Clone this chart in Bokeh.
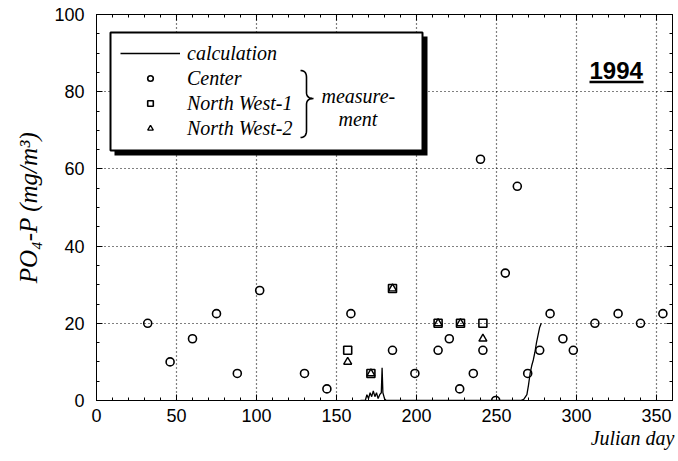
import math
from bokeh.plotting import figure
from bokeh.models import (Legend, LegendItem, Label, BoxAnnotation, LinearAxis,
                          FixedTicker, PolyAnnotation, CustomJSTickFormatter, Title)
from bokeh.embed import file_html
from bokeh.resources import INLINE

# ---------------- data ----------------
center_day = [32, 46, 60, 75, 88, 102, 130, 144, 159, 185, 199, 213.5, 220.5, 227,
              235.5, 240, 241.5, 249.5, 255.5, 263, 269.5, 277, 283.5, 291.5, 298,
              311.5, 326, 340, 354]
center_val = [20, 10, 16, 22.5, 7, 28.5, 7, 3, 22.5, 13, 7, 13, 16, 3,
              7, 62.5, 13, 0, 33, 55.5, 7, 13, 22.5, 16, 13,
              20, 22.5, 20, 22.5]
nw1_day = [157, 171.5, 185, 213.5, 227.5, 241.5]
nw1_val = [13, 7, 29, 20, 20, 20]
nw2_day = [157, 171.5, 185, 213.5, 227.5, 241.5]
nw2_val = [10, 7, 29, 20, 20, 16]
calc_day = [165, 168, 169, 170, 171, 172, 173, 174, 175, 176, 177, 178, 178.5, 179,
            180, 181, 185, 265, 267, 269, 270, 271, 272, 273, 274, 275, 276, 277, 278]
calc_val = [0, 0, 1.5, 0.5, 2, 1, 2.5, 1, 2, 0.5, 1.5, 2, 8.5, 2,
            0.5, 0, 0, 0, 0.3, 1.5, 4, 7, 9, 10.5, 12.5, 15, 17, 19, 20]
x_ticks = [0, 50, 100, 150, 200, 250, 300, 350]
x_minor = list(range(0, 361, 10))
y_ticks = [0, 20, 40, 60, 80, 100]
y_minor = list(range(0, 101, 5))

# frame geometry (pixels)
FL, FR, FT, FB = 96, 672, 14, 400
XMAX, YMAX = 360, 100
SX = (FR - FL) / XMAX
SY = (FB - FT) / YMAX


def dx(px):
    return (px - FL) / SX


def dy(py):
    return (FB - py) / SY


p = figure(frame_width=FR - FL, frame_height=FB - FT, x_range=(0, XMAX), y_range=(0, YMAX),
           output_backend="svg", toolbar_location=None,
           min_border_left=FL, min_border_right=678 - FR, min_border_top=FT,
           min_border_bottom=461 - FB, outline_line_color="black", outline_line_width=1,
           background_fill_color="white", border_fill_color="white")

TICKFONT = "Liberation Sans"
SERIF = "Liberation Serif"
for ax, ticks, minor in ((p.xaxis[0], x_ticks, x_minor), (p.yaxis[0], y_ticks, y_minor)):
    ax.ticker = FixedTicker(ticks=ticks, minor_ticks=minor)
    ax.major_tick_in = 6
    ax.major_tick_out = 0
    ax.minor_tick_in = 3
    ax.minor_tick_out = 0
    ax.axis_line_color = "black"
    ax.major_tick_line_color = "black"
    ax.minor_tick_line_color = "black"
    ax.major_label_text_font = TICKFONT
    ax.major_label_text_font_size = "18px"
    ax.major_label_text_color = "black"
p.xaxis.major_label_standoff = 8
p.yaxis.major_label_standoff = 12

# y axis label
p.yaxis.axis_label = "PO\u2084-P (mg/m\u00b3)"
p.yaxis.axis_label_text_font = SERIF
p.yaxis.axis_label_text_font_style = "italic"
p.yaxis.axis_label_text_font_size = "25px"
p.yaxis.axis_label_text_color = "black"
p.yaxis.axis_label_standoff = 9

for ticks, minor, place in ((x_ticks, x_minor, "above"), (y_ticks, y_minor, "right")):
    ax = LinearAxis(ticker=FixedTicker(ticks=ticks, minor_ticks=minor),
                    formatter=CustomJSTickFormatter(code="return ''"),
                    major_tick_in=6, major_tick_out=0, minor_tick_in=3, minor_tick_out=0,
                    major_label_text_font_size="1px", major_label_standoff=0,
                    axis_line_color="black")
    p.add_layout(ax, place)

# x axis label, right aligned under the axis
p.add_layout(Title(text="Julian day", align="right", text_font=SERIF,
                   text_font_style="italic", text_font_size="20px",
                   text_color="black", standoff=0, offset=-2), "below")

p.xgrid.ticker = FixedTicker(ticks=x_ticks)
p.ygrid.ticker = FixedTicker(ticks=y_ticks)
for g in (p.xgrid[0], p.ygrid[0]):
    g.grid_line_color = "black"
    g.grid_line_dash = "1 3"
    g.grid_line_width = 1.2

# ---------------- legend frame (white box with a dark drop shadow) ----------------
p.add_layout(BoxAnnotation(left=dx(114), right=dx(427), top=dy(36), bottom=dy(155),
                           fill_color="black", fill_alpha=1, line_color=None,
                           level="underlay"))
p.add_layout(BoxAnnotation(left=dx(110), right=dx(422), top=dy(32), bottom=dy(150),
                           fill_color="white", fill_alpha=1, line_color="black",
                           line_alpha=1, line_width=2, level="underlay"))

# ---------------- data marks ----------------
r_calc = p.line(calc_day, calc_val, line_color="black", line_width=1.3)
r_c = p.scatter(center_day, center_val, marker="circle", size=8, fill_color=None,
                line_color="black", line_width=1.6)
r_n1 = p.scatter(nw1_day, nw1_val, marker="square", size=8, fill_color=None,
                 line_color="black", line_width=1.6)
r_n2 = p.scatter(nw2_day, nw2_val, marker="triangle", size=8, fill_color=None,
                 line_color="black", line_width=1.4)

legend = Legend(items=[LegendItem(label="calculation", renderers=[r_calc]),
                       LegendItem(label="Center", renderers=[r_c]),
                       LegendItem(label="North West-1", renderers=[r_n1]),
                       LegendItem(label="North West-2", renderers=[r_n2])],
                location=(24, FB - 140), margin=0,
                label_text_font=SERIF, label_text_font_style="italic",
                label_text_font_size="20px", label_text_color="black",
                glyph_width=60, glyph_height=14,
                label_height=24, label_width=180, spacing=1, padding=9,
                label_standoff=7, border_line_color=None,
                background_fill_alpha=0)
p.add_layout(legend)


# brace (decoration), built as a thin path drawn there and back
def qpts(a, c, b, n=8):
    out = []
    for i in range(n + 1):
        t = i / n
        out.append(((1 - t) ** 2 * a[0] + 2 * (1 - t) * t * c[0] + t ** 2 * b[0],
                    (1 - t) ** 2 * a[1] + 2 * (1 - t) * t * c[1] + t ** 2 * b[1]))
    return out


bx0, bx1, btip = 300, 306, 313
by0, bmid, by1 = 70, 98, 137
path = (qpts((bx0, by0), (bx1, by0), (bx1, by0 + 7)) +
        qpts((bx1, bmid - 6), (bx1, bmid), (btip, bmid)) +
        qpts((btip, bmid), (bx1, bmid), (bx1, bmid + 6)) +
        qpts((bx1, by1 - 7), (bx1, by1), (bx0, by1)))
full = path + path[::-1]
p.add_layout(PolyAnnotation(xs=[dx(a) for a, b in full], ys=[dy(b) for a, b in full],
                            fill_color=None, fill_alpha=0, line_color="black",
                            line_alpha=1, line_width=1.6))

for txt, px, py in (("measure-", 321, 95), ("ment", 338, 118)):
    p.add_layout(Label(x=dx(px), y=dy(py), text=txt, text_font=SERIF,
                       text_font_style="italic", text_font_size="20px",
                       text_color="black", text_baseline="middle", text_align="left"))

# year
p.add_layout(Label(x=dx(589), y=dy(61), text="1994", text_font=TICKFONT,
                   text_font_style="bold", text_font_size="24px", text_color="black",
                   text_baseline="top", text_align="left"))
p.segment(x0=[dx(589)], y0=[dy(81.5)], x1=[dx(643)], y1=[dy(81.5)],
          line_color="black", line_width=2.5)

open("out.html", "w").write(file_html(p, INLINE))
